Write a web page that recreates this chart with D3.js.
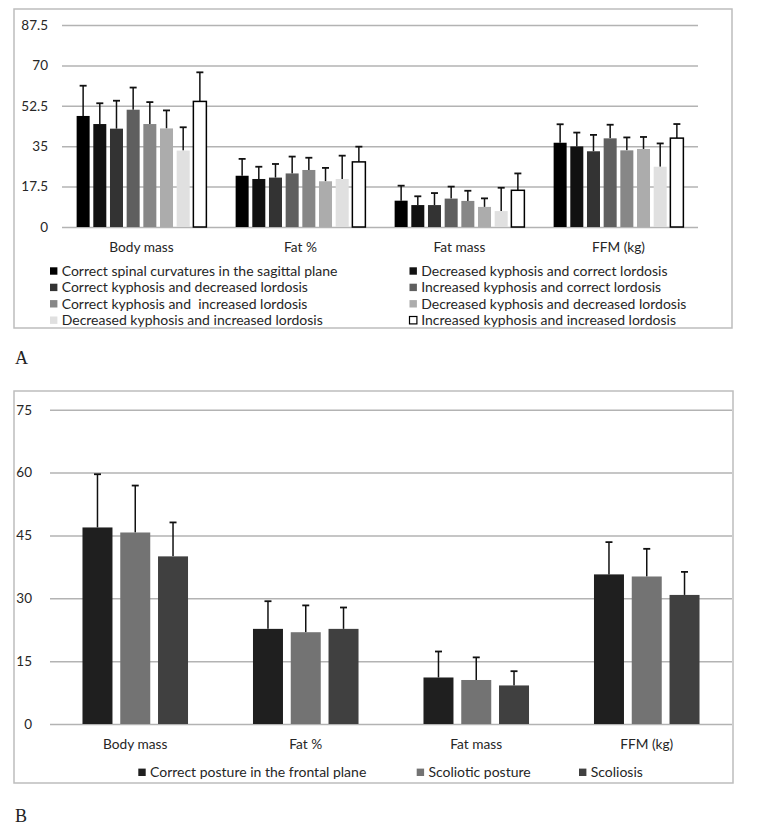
<!DOCTYPE html>
<html>
<head>
<meta charset="utf-8">
<script src="https://cdn.jsdelivr.net/npm/d3@7"></script>
<style>
  body { margin: 0; background: #fff; }
  svg text { font-family: Lato, "Liberation Sans", Arial, sans-serif; fill: #262626; }
  .panel { font-family: "Liberation Serif", "Times New Roman", serif; }
</style>
</head>
<body>
<svg id="chart" width="758" height="830"></svg>
<script>
const categories = ['Body mass', 'Fat %', 'Fat mass', 'FFM (kg)'];

// panel A: sagittal plane groups
const sagittalGroups = [
  'Correct spinal curvatures in the sagittal plane',
  'Decreased kyphosis and correct lordosis',
  'Correct kyphosis and decreased lordosis',
  'Increased kyphosis and correct lordosis',
  'Correct kyphosis and  increased lordosis',
  'Decreased kyphosis and decreased lordosis',
  'Decreased kyphosis and increased lordosis',
  'Increased kyphosis and increased lordosis'
];
// means per group, in category order
const sagittalMeans = [
  [48.1, 22.2, 11.4, 36.5],
  [44.6, 20.8, 9.5, 34.9],
  [42.6, 21.4, 9.5, 32.8],
  [50.8, 23.2, 12.3, 38.4],
  [44.6, 24.7, 11.3, 33.2],
  [42.7, 19.8, 8.7, 33.8],
  [33.1, 20.8, 6.9, 26.1],
  [54.4, 28.2, 15.9, 38.5]
];
const sagittalSD = [
  [13.1, 7.3, 6.5, 8.0],
  [9.0, 5.3, 3.8, 6.0],
  [12.1, 5.9, 5.2, 7.1],
  [9.6, 7.3, 5.2, 5.9],
  [9.5, 5.3, 4.4, 5.6],
  [7.8, 5.8, 3.7, 5.2],
  [10.1, 10.1, 10.1, 10.1],
  [12.6, 6.6, 7.3, 6.1]
];
const sagittalColors = ['#000000', '#111111', '#333333', '#5f5f5f', '#878787', '#acacac', '#e0e0e0', '#ffffff'];
const sagittalTicks = [0, 17.5, 35, 52.5, 70, 87.5];

// panel B: frontal plane groups
const frontalGroups = ['Correct posture in the frontal plane', 'Scoliotic posture', 'Scoliosis'];
const frontalMeans = [
  [46.9, 22.7, 11.1, 35.7],
  [45.7, 21.9, 10.5, 35.2],
  [40.0, 22.7, 9.2, 30.8]
];
const frontalSD = [
  [12.7, 6.6, 6.2, 7.7],
  [11.2, 6.4, 5.4, 6.6],
  [8.1, 5.1, 3.4, 5.5]
];
const frontalColors = ['#1f1f1f', '#737373', '#404040'];
const frontalTicks = [0, 15, 30, 45, 60, 75];

const svg = d3.select('#chart');

function drawPanel(cfg) {
  const g = svg.append('g');

  g.append('rect')
    .attr('x', cfg.box[0]).attr('y', cfg.box[1])
    .attr('width', cfg.box[2] - cfg.box[0]).attr('height', cfg.box[3] - cfg.box[1])
    .attr('fill', 'none').attr('stroke', '#bdbdbd').attr('stroke-width', 1.5);

  const y = d3.scaleLinear().domain([0, cfg.ticks[cfg.ticks.length - 1]]).range(cfg.yRange);
  const x0 = d3.scaleBand().domain(categories).range(cfg.xRange)
    .paddingInner(cfg.outerPad).paddingOuter(cfg.outerPad / 2);
  const x1 = d3.scaleBand().domain(d3.range(cfg.groups.length)).range([0, x0.bandwidth()])
    .paddingInner(cfg.innerPad);

  // gridlines and tick labels
  const yAxis = d3.axisLeft(y).tickValues(cfg.ticks).tickSize(-(cfg.xRange[1] - cfg.xRange[0]))
    .tickPadding(cfg.xRange[0] - cfg.tickRight).tickFormat(d3.format(''));
  const ax = g.append('g').attr('transform', 'translate(' + cfg.xRange[0] + ',0)').call(yAxis);
  ax.select('.domain').remove();
  ax.selectAll('line').attr('stroke', '#b3b3b3').attr('stroke-width', 1.5);
  ax.selectAll('text').attr('font-size', 13.5).style('font-family', 'Lato, sans-serif').style('fill', '#262626');

  const bars = [];
  cfg.groups.forEach((name, i) => {
    categories.forEach((c, j) => {
      bars.push({ s: i, c: c, v: cfg.means[i][j], sd: cfg.sd[i][j] });
    });
  });

  const bx = d => x0(d.c) + x1(d.s);

  // error bars (upper only)
  const eb = g.append('g').selectAll('g').data(bars).enter().append('g');
  eb.append('line')
    .attr('x1', d => bx(d) + x1.bandwidth() / 2).attr('x2', d => bx(d) + x1.bandwidth() / 2)
    .attr('y1', d => y(d.v)).attr('y2', d => y(d.v + d.sd))
    .attr('stroke', '#111').attr('stroke-width', 1.5);
  eb.append('line')
    .attr('x1', d => bx(d) + x1.bandwidth() / 2 - 3.5).attr('x2', d => bx(d) + x1.bandwidth() / 2 + 3.5)
    .attr('y1', d => y(d.v + d.sd)).attr('y2', d => y(d.v + d.sd))
    .attr('stroke', '#111').attr('stroke-width', 1.8);

  g.append('g').selectAll('rect').data(bars).enter().append('rect')
    .attr('x', d => bx(d))
    .attr('y', d => y(d.v))
    .attr('width', x1.bandwidth())
    .attr('height', d => y(0) - y(d.v))
    .attr('fill', d => cfg.colors[d.s])
    .attr('stroke', d => cfg.colors[d.s] === '#ffffff' ? '#000' : 'none')
    .attr('stroke-width', 1.5);

  // category labels
  g.append('g').selectAll('text').data(categories).enter().append('text')
    .attr('x', d => x0(d) + x0.bandwidth() / 2)
    .attr('y', cfg.catY)
    .attr('text-anchor', 'middle')
    .attr('font-size', 13.7)
    .text(d => d);

  // legend
  const lg = g.append('g').selectAll('g').data(cfg.groups).enter().append('g')
    .attr('transform', (d, i) => 'translate(' + cfg.legendPos(i)[0] + ',' + cfg.legendPos(i)[1] + ')');
  lg.append('rect')
    .attr('x', 0).attr('y', -3.7).attr('width', 7.4).attr('height', 7.4)
    .attr('fill', (d, i) => cfg.colors[i])
    .attr('stroke', (d, i) => cfg.colors[i] === '#ffffff' ? '#000' : 'none')
    .attr('stroke-width', 1.2);
  lg.append('text')
    .attr('x', cfg.legendGap).attr('y', 4.7)
    .attr('font-size', 14)
    .style('white-space', 'pre')
    .text(d => d);

  svg.append('text').attr('class', 'panel')
    .attr('x', 15).attr('y', cfg.panelY)
    .attr('font-size', 18).style('fill', '#222')
    .text(cfg.panel);
}

drawPanel({
  box: [14, 9, 732, 328],
  yRange: [227, 25],
  xRange: [62, 698],
  tickRight: 48,
  ticks: sagittalTicks,
  groups: sagittalGroups,
  means: sagittalMeans,
  sd: sagittalSD,
  colors: sagittalColors,
  outerPad: 0.184,
  innerPad: 0.22,
  catY: 252,
  legendGap: 11.7,
  legendPos: i => [i % 2 === 0 ? 50 : 409.5, 271 + Math.floor(i / 2) * 16.4],
  panel: 'A',
  panelY: 364
});

drawPanel({
  box: [14, 391, 733, 783],
  yRange: [724, 409.7],
  xRange: [50, 732],
  tickRight: 32,
  ticks: frontalTicks,
  groups: frontalGroups,
  means: frontalMeans,
  sd: frontalSD,
  colors: frontalColors,
  outerPad: 0.381,
  innerPad: 0.206,
  catY: 749,
  legendGap: 11.7,
  legendPos: i => [[138.3, 416.7, 579][i], 772.3],
  panel: 'B',
  panelY: 822
});
</script>
</body>
</html>
